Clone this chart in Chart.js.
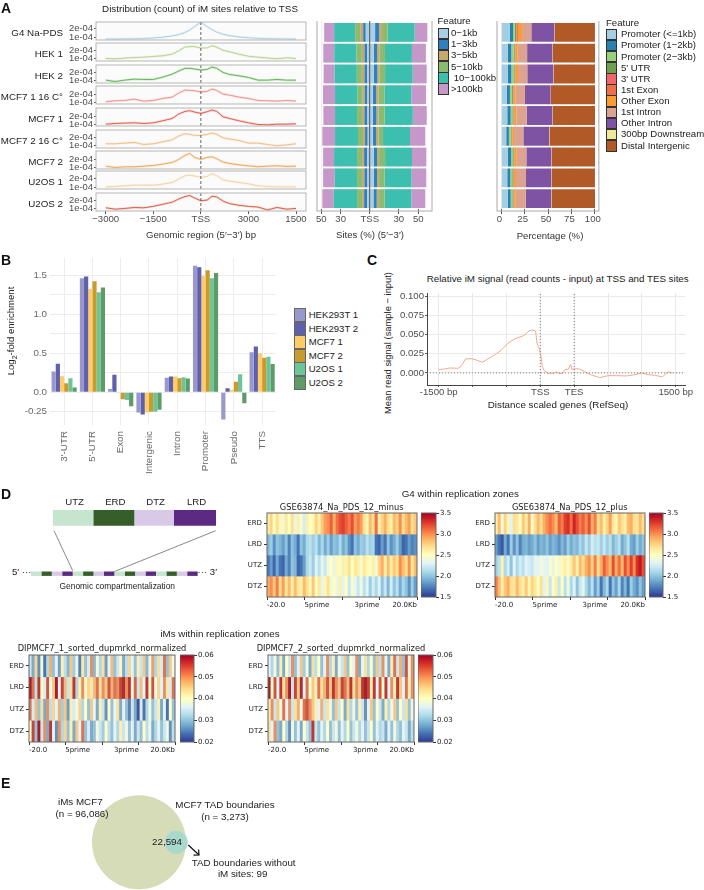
<!DOCTYPE html>
<html>
<head>
<meta charset="utf-8">
<title>iM sites figure</title>
<script src="https://cdn.jsdelivr.net/npm/chart.js@4/dist/chart.umd.js"></script>
<style>
body { margin: 0; background: #fff; }
#fig { position: relative; width: 704px; height: 890px; overflow: hidden; font-family: "Liberation Sans", Arial, sans-serif; }
#fig canvas { position: absolute; }
.txt { position: absolute; white-space: nowrap; color: #222; line-height: 1; }
.swatch { position: absolute; box-sizing: border-box; border: 1px solid #333; }
</style>
</head>
<body>
<div id="fig"></div>
<script>
// panel A, density lines (values in units of 1e-04)
var tssPositions = [-3000,-2700,-2400,-2100,-1800,-1500,-1200,-900,-700,-500,-350,-200,0,200,350,500,700,900,1200,1500,1800,2100,2400,2700,3000];
var densityTicks = [-3000,-1500,0,1500,3000];
var densityTickLabels = ['\u22123000','\u22121500','TSS','3000','1500'];
var sampleNames = ['G4 Na-PDS','HEK 1','HEK 2','MCF7 1 16 C\u00b0','MCF7 1','MCF7 2 16 C\u00b0','MCF7 2','U2OS 1','U2OS 2'];
var g4NaPds = [.78,.78,.79,.8,.83,.9,1.0,1.15,1.3,1.55,1.85,2.25,2.78,2.25,1.9,1.6,1.35,1.18,1.02,.93,.86,.82,.8,.78,.78];
var hek1 = [1.04,1.0,1.08,1.15,1.2,1.28,1.36,1.56,1.95,2.4,2.45,2.45,2.28,2.3,2.55,2.4,2.0,1.85,1.55,1.3,1.2,1.1,1.0,1.12,1.04];
var hek2 = [1.08,.92,1.08,1.2,1.16,1.16,1.44,1.8,2.16,2.48,2.48,2.4,2.28,2.36,2.64,2.48,2.0,1.76,1.6,1.4,1.08,1.08,1.16,1.08,1.08];
var mcf1c16 = [1.08,1.2,1.24,1.4,1.16,1.24,1.48,1.64,2.12,2.48,2.44,2.4,2.24,2.32,2.6,2.44,2.0,1.88,1.64,1.48,1.24,1.2,1.16,1.24,1.16];
var mcf1 = [1.08,1.16,1.2,1.24,1.16,1.24,1.48,1.76,2.28,2.6,2.68,2.52,2.36,2.56,2.76,2.6,1.96,1.76,1.48,1.24,1.04,1.0,1.08,1.08,1.12];
var mcf2c16 = [1.2,1.2,1.28,1.36,1.12,1.2,1.44,1.68,2.12,2.4,2.32,2.2,2.2,2.32,2.48,2.32,1.92,1.76,1.6,1.28,1.28,1.12,.96,1.08,1.2];
var mcf2 = [1.2,1.04,1.12,1.12,1.2,1.28,1.44,1.64,2.0,2.48,2.72,2.24,2.0,2.24,2.32,2.08,1.68,1.52,1.36,1.24,1.12,1.2,1.24,1.16,1.2];
var u2os1 = [1.04,1.08,1.16,1.24,1.24,1.24,1.36,1.56,1.96,2.36,2.44,2.32,2.16,2.28,2.6,2.36,1.88,1.72,1.56,1.4,1.16,1.08,1.04,1.04,1.04];
var u2os2 = [1.08,.92,1.0,1.12,1.08,1.25,1.5,1.75,2.12,2.42,2.54,2.25,1.92,2.0,2.46,2.38,1.88,1.58,1.38,1.25,1.17,.83,1.12,.92,1.0];
var densitySeries = [g4NaPds,hek1,hek2,mcf1c16,mcf1,mcf2c16,mcf2,u2os1,u2os2];
var densityColors = ['#a6cee3','#b2d08a','#55b047','#f08a80','#e8503f','#f5b87a','#f0a04b','#f6cf9e','#d9533b'];
var densityTop = [2.8,2.88,2.88,2.96,3.0,2.84,3.0,2.92,2.84];

// panel A, distance to TSS (left and right of TSS, %)
var distFeatures = ['0\u22121kb','1\u22123kb','3\u22125kb','5\u221210kb','\u00a010\u2212100kb','>100kb'];
var distColors = ['#a6cfe5','#2e80c0','#c8a868','#8cbb70','#3dbfb0','#c598c9'];
var left0to1 = [4.1,2.7,2.7,2.4,2.4,2.1,2.7,2.4,2.7];
var left1to3 = [2.7,2.7,2.7,2.7,3.1,2.7,3.1,3.1,3.1];
var left3to5 = [3.1,2.7,2.7,2.1,2.4,2.1,2.1,2.4,2.1];
var left5to10 = [5.2,5.5,5.2,5.2,5.2,5.2,5.2,5.2,5.2];
var left10to100 = [21.6,23,23,23.4,22.7,23.7,23.7,23,24.1];
var leftOver100 = [10.3,11.3,11.3,12.4,12,13.1,11.3,12,11.7];
var right0to1 = [5.5,4.1,4.1,3.1,3.1,3.1,4.1,4.1,3.8];
var right1to3 = [4.1,3.4,3.8,3.4,3.8,3.4,3.4,3.4,3.4];
var right3to5 = [3.1,2.4,2.1,2.4,2.1,2.4,2.1,2.1,2.4];
var right5to10 = [5.8,5.8,5.8,6.2,6.2,4.8,6.2,5.8,5.8];
var right10to100 = [27.8,27.8,28.5,27.8,29.2,27.8,27.8,27.8,27.5];
var rightOver100 = [13.1,14.4,14.4,15.1,14.4,15.8,14.8,15.1,14.4];
var distLeft = [left0to1,left1to3,left3to5,left5to10,left10to100,leftOver100];
var distRight = [right0to1,right1to3,right3to5,right5to10,right10to100,rightOver100];
var distTicks = [-50,-30,0,30,50];
var distTickLabels = ['50','30','TSS','30','50'];

// panel A, genomic features (%)
var annoFeatures = ['Promoter (<=1kb)','Promoter (1\u22122kb)','Promoter (2\u22123kb)',"5' UTR","3' UTR",'1st Exon','Other Exon','1st Intron','Other Intron','300bp Downstream','Distal Intergenic'];
var annoColors = ['#a6cee3','#2681b4','#98d07c','#6f9f50','#f0666a','#ef7046','#fd9b33','#dba390','#7f53a3','#f0ea98','#b15a28'];
var promoter1 = [8.9,7.1,7.1,6,6.4,5.3,6.8,6.4,6.8];
var promoter2 = [3.6,3.6,3.6,3.2,3.6,2.8,3.6,3.2,3.2];
var promoter3 = [1.8,2.5,2.8,2.1,1.8,1.8,2.1,2.1,1.8];
var utr5 = [1.4,1.1,.7,1.1,1.1,1.1,.7,1.1,1.1];
var utr3 = [.7,.4,.4,.4,.4,.4,.4,.4,.4];
var exon1 = [1.4,.4,.4,.4,.4,.4,.4,.4,.4];
var exonOther = [4.3,2.5,2.8,1.8,2.5,1.8,2.5,2.1,1.8];
var intron1 = [10,10,10,10.3,11,10,10.3,10.7,10.7];
var intronOther = [24.6,27,27.8,27.4,27.4,27.4,26.7,27,27];
var downstream = [.4,.4,.4,.4,.4,.4,.4,.4,.4];
var distal = [43,45.2,44.1,47.1,45.2,48.8,46.3,46.3,46.6];
var annoSeries = [promoter1,promoter2,promoter3,utr5,utr3,exon1,exonOther,intron1,intronOther,downstream,distal];

// panel B
var enrichCategories = ["3'-UTR","5'-UTR",'Exon','Intergenic','Intron','Promoter','Pseudo','TTS'];
var enrichNames = ['HEK293T 1','HEK293T 2','MCF7 1','MCF7 2','U2OS 1','U2OS 2'];
var enrichColors = ['#9898cc','#5e60ae','#ffcc66','#c99a2e','#6cc59a','#5f9b66'];
var hek293t1 = [.265,1.46,.04,-.26,.185,1.62,-.35,.51];
var hek293t2 = [.365,1.48,.225,-.285,.2,1.60,.05,.585];
var mcf71 = [.205,1.32,-.005,-.26,.2,1.49,.03,.50];
var mcf72 = [.115,1.42,-.09,-.25,.18,1.56,.135,.44];
var u2os1b = [.18,1.28,-.1,-.25,.19,1.46,.23,.455];
var u2os2b = [.06,1.34,-.18,-.225,.175,1.525,-.14,.36];
var enrichSeries = [hek293t1,hek293t2,mcf71,mcf72,u2os1b,u2os2b];
var enrichTicks = [-.25,0,.25,.5,.75,1,1.25,1.5];
var enrichTickLabels = ['-0.25','0.0','','0.5','','1.0','','1.5'];

// panel C (TSS = 0, TES = 500 on the scaled gene axis)
var signalX = [-1500,-1415,-1341,-1218,-1168,-1104,-1020,-947,-858,-774,-675,-577,-478,-380,-256,-158,-108,-69,-49,-10,10,30,54,113,148,187,237,286,335,375,409,449,468,508,582,656,754,878,1001,1124,1272,1395,1494,1592,1691,1804,1888,1952];
var signalY = [.0043,.0052,.0065,.0061,.0087,.0183,.0187,.017,.0139,.0183,.0235,.0296,.0387,.0444,.0483,.0552,.0561,.0548,.039,.0304,.0217,.0087,.0035,-.0009,0,-.0009,.0017,-.0009,0,.0052,.0043,.0113,.0043,.0056,.0052,.0017,-.0026,-.0061,-.0035,-.0035,-.0039,-.0022,0,-.0022,-.003,-.0052,.0017,0];
var signalXTicks = [-1500,-1000,-500,0,500,1000,1500,2000];
var signalXLabels = ['-1500 bp','','','TSS','TES','','','1500 bp'];
var signalYTicks = [0,.025,.05,.075,.1];

// panel D schematic
var zoneNames = ['UTZ','ERD','DTZ','LRD'];
var zoneColors = ['#c6e5cf','#355e2b','#d8cae6','#5c2a82'];
var zoneEdges = [53,93.3,134.3,174,216];
var trackEdges = [31,41.4,51.8,62.2,72.7,83.1,93.5,103.9,114.3,124.7,135.1,145.5,156,166.4,176.8,187.2,197.7];
var connectorA = [[54,530.7],[72.7,570.7]];
var connectorB = [[215.7,530.7],[114,571.7]];

// panel D heatmaps
var heatRows = ['ERD','LRD','UTZ','DTZ'];
var heatXLabels = ['-20.0','5prime','3prime','20.0Kb'];
var g4Ticks = [1.5,2,2.5,3,3.5];
var imTicks = [.02,.03,.04,.05,.06];
var g4MinusERD = [2.6,2.75,2.5,2.7,2.55,2.4,2.65,2.5,2.7,2.35,2.6,2.45,2.25,2.6,2.5,2.55,2.75,2.6,2.8,2.95,3.0,3.15,2.9,3.1,3.2,3.25,3.15,3.05,3.2,2.95,3.05,2.95,2.7,2.55,2.85,2.7,3.1,2.6,2.75,2.9,2.7,2.6,2.85,2.75,3.0,2.7,2.85,2.95,2.7,2.8];
var g4MinusLRD = [1.95,2.05,1.8,2.0,1.95,1.85,2.0,1.75,2.0,1.9,1.7,2.0,1.9,2.1,2.15,2.05,2.15,1.95,2.1,1.9,2.05,1.85,2.0,1.95,2.1,1.9,2.0,1.8,1.7,2.0,1.9,2.05,2.0,2.15,2.05,2.1,1.7,1.65,1.85,1.7,2.0,1.8,1.9,2.05,1.85,1.65,1.7,1.85,1.75,1.8];
var g4MinusUTZ = [1.7,1.85,1.65,1.9,1.7,1.65,1.9,1.75,2.0,1.95,1.65,1.7,1.85,2.1,2.2,2.05,2.3,2.15,2.35,2.2,2.4,2.5,2.35,2.55,2.45,2.6,2.55,2.7,2.5,2.65,2.6,2.45,2.65,2.55,2.5,2.6,2.4,2.75,2.9,2.6,2.85,2.6,2.8,2.7,3.0,2.85,2.7,3.0,2.65,2.85];
var g4MinusDTZ = [2.9,3.0,2.8,3.05,2.7,2.95,2.65,2.85,2.6,2.85,2.65,2.6,2.85,2.7,2.55,2.8,2.5,2.65,2.35,2.55,2.7,2.4,2.5,2.35,2.6,2.3,2.5,2.2,2.45,2.35,2.2,2.4,2.15,2.3,2.05,2.25,2.1,2.3,2.0,2.2,1.95,2.25,2.0,2.15,1.9,2.1,2.0,1.8,2.05,1.85];
var g4PlusERD = [2.6,2.85,2.4,2.75,2.55,2.3,2.7,2.65,2.5,2.8,2.6,2.9,2.45,2.7,2.85,2.7,2.9,3.0,3.1,3.0,2.85,3.15,3.05,3.25,3.3,3.1,3.35,3.2,3.05,3.15,3.0,3.2,2.9,3.05,2.7,2.85,2.6,2.75,2.95,2.65,2.55,2.8,2.7,2.6,2.85,2.9,2.7,2.65,2.85,2.7];
var g4PlusLRD = [1.85,1.7,1.6,1.9,1.7,2.05,1.8,2.0,1.75,1.9,1.95,1.85,1.9,2.0,1.85,1.95,1.9,2.0,1.85,1.95,1.9,1.8,1.95,1.85,2.05,1.9,2.0,1.95,2.1,2.0,2.2,2.05,2.25,2.15,2.2,2.05,2.2,2.05,2.15,1.95,2.05,2.15,1.9,2.0,2.15,1.9,1.85,2.05,1.9,2.0];
var g4PlusUTZ = [2.05,2.15,2.6,2.1,2.25,2.0,2.3,2.1,2.25,2.15,2.3,2.25,2.2,2.35,2.3,2.4,2.35,2.3,2.45,2.35,2.5,2.4,2.55,2.6,2.45,2.65,2.8,2.6,2.85,2.7,2.9,3.0,2.75,3.05,2.7,2.9,3.15,3.0,2.85,3.2,2.9,3.1,2.85,3.2,3.0,3.25,3.0,3.3,3.4,3.2];
var g4PlusDTZ = [3.05,2.85,2.6,2.8,2.9,2.7,2.65,2.85,2.7,2.6,2.8,2.55,2.75,2.65,2.5,2.7,2.3,2.55,2.2,2.45,2.6,2.2,2.5,2.15,2.4,2.1,2.3,2.0,2.2,2.35,2.1,1.95,2.15,1.85,2.05,1.7,1.95,2.1,1.7,2.0,1.85,2.1,1.75,1.95,1.7,2.05,1.9,1.8,2.0,1.85];
var im1ERD = [.034,.028,.045,.026,.038,.024,.032,.048,.03,.036,.027,.042,.033,.029,.046,.031,.037,.025,.043,.03,.035,.05,.029,.038,.032,.044,.027,.036,.047,.03,.034,.041,.028,.033,.045,.036,.03,.042,.034,.046,.029,.037,.049,.032,.044,.035,.052,.03,.046,.038];
var im1LRD = [.058,.052,.033,.056,.04,.035,.054,.038,.046,.058,.036,.055,.047,.034,.044,.056,.032,.042,.05,.041,.045,.043,.047,.052,.044,.05,.046,.054,.048,.052,.05,.055,.057,.05,.056,.038,.053,.034,.047,.036,.056,.04,.054,.038,.045,.036,.05,.043,.035,.052];
var im1UTZ = [.052,.035,.047,.03,.044,.028,.05,.033,.045,.036,.048,.031,.046,.027,.042,.035,.038,.045,.032,.04,.03,.046,.036,.028,.042,.034,.026,.04,.03,.037,.044,.028,.036,.03,.025,.034,.028,.022,.035,.024,.032,.038,.03,.034,.042,.028,.036,.024,.04,.03];
var im1DTZ = [.04,.055,.03,.058,.034,.05,.028,.056,.036,.026,.05,.032,.045,.03,.042,.028,.046,.036,.052,.03,.035,.028,.03,.038,.034,.031,.04,.033,.03,.036,.032,.042,.034,.038,.03,.036,.028,.034,.03,.04,.033,.037,.028,.032,.036,.03,.034,.038,.026,.033];
var im2ERD = [.036,.032,.038,.03,.042,.028,.04,.034,.05,.03,.036,.046,.031,.038,.028,.044,.033,.04,.03,.036,.05,.032,.042,.028,.038,.034,.046,.03,.04,.036,.05,.028,.037,.044,.032,.04,.03,.046,.033,.05,.036,.028,.042,.052,.034,.048,.03,.054,.038,.05];
var im2LRD = [.058,.04,.054,.036,.056,.044,.05,.058,.034,.055,.046,.057,.036,.052,.04,.046,.042,.052,.044,.048,.054,.046,.056,.05,.046,.055,.052,.047,.056,.044,.05,.046,.056,.058,.055,.042,.056,.036,.054,.04,.056,.036,.05,.042,.056,.046,.036,.052,.042,.05];
var im2UTZ = [.042,.05,.034,.046,.038,.052,.036,.05,.034,.044,.048,.038,.052,.054,.05,.046,.042,.036,.048,.034,.044,.038,.03,.046,.034,.04,.028,.044,.032,.038,.03,.042,.034,.026,.036,.046,.03,.04,.034,.028,.042,.032,.038,.046,.03,.04,.034,.044,.03,.038];
var im2DTZ = [.044,.036,.05,.03,.028,.04,.032,.026,.038,.03,.036,.028,.04,.034,.03,.056,.034,.03,.036,.032,.04,.03,.034,.038,.03,.036,.032,.04,.03,.034,.038,.032,.036,.03,.034,.04,.03,.036,.032,.034,.028,.036,.03,.038,.032,.03,.036,.034,.028,.033];

// panel E
var vennX = [139,176.3];
var vennY = [842.3,842.3];
var vennR = [47,11.5];
var vennColors = ['#d6dcb8','#a9d9cc'];
var arrowPath = [[188.3,845],[199,855]];
var arrowHead = [[193.5,855.2],[199,855],[198.6,849.5]];

var sansFont = '"Liberation Sans"';
var mplFont = '"DejaVu Sans"';
var tickGrey = '#4d4d4d';
var fig = document.getElementById('fig');

function label(text, x, y, o) {
    o = o || {};
    var d = document.createElement('div');
    d.className = 'txt';
    d.innerHTML = text;
    var tx = o.align == 'right' ? '-100%' : o.align == 'left' ? '0' : '-50%';
    d.style.left = x + 'px';
    d.style.top = y + 'px';
    d.style.fontSize = (o.size || 9.6) + 'px';
    if (o.color) d.style.color = o.color;
    if (o.weight) d.style.fontWeight = o.weight;
    if (o.font) d.style.fontFamily = o.font;
    d.style.transform = 'translate(' + tx + ',-50%)' + (o.rotate ? ' rotate(' + o.rotate + 'deg)' : '');
    fig.appendChild(d);
}

function legendBlock(title, names, colors, sx, sw, tx, titleY, firstY, step, size, border) {
    if (title) label(title, sx, titleY, {align: 'left', size: size});
    names.forEach(function(n, i) {
        var s = document.createElement('div');
        s.className = 'swatch';
        s.style.left = sx + 'px';
        s.style.top = (firstY + i * step) + 'px';
        s.style.width = sw + 'px';
        s.style.height = (step + 0.4) + 'px';
        s.style.background = colors[i];
        if (border) s.style.borderColor = border;
        fig.appendChild(s);
        label(n, tx, firstY + i * step + step / 2, {align: 'left', size: size});
    });
}

// fixed ticks, the picture has them at unusual places
function fixedTicks(list) {
    return function(axis) { axis.ticks = list.map(function(v) { return {value: v}; }); };
}

function framePlugin(color, dx, dy, fill) {
    return {
        id: 'frame',
        beforeDatasetsDraw: function(chart) {
            if (!fill) return;
            var a = chart.chartArea, c = chart.ctx;
            c.save();
            c.fillStyle = fill;
            c.fillRect(a.left, a.top, a.right - a.left, a.bottom - a.top);
            c.restore();
        },
        afterDraw: function(chart) {
            var a = chart.chartArea, c = chart.ctx;
            c.save();
            c.strokeStyle = color;
            c.lineWidth = 1;
            c.strokeRect(a.left - dx, a.top - dy, a.right - a.left + 2 * dx, a.bottom - a.top + 2 * dy);
            c.restore();
        }
    };
}

// puts a canvas so that the plot area lands on area = [x0,y0,x1,y1]; m = [left,top,right,bottom]
// top and bottom must leave room for half a y tick label or chart.js shrinks the plot
function addChart(area, m, config) {
    var w = area[2] - area[0], h = area[3] - area[1];
    var canvas = document.createElement('canvas');
    canvas.width = w + m[0] + m[2];
    canvas.height = h + m[1] + m[3];
    canvas.style.left = (area[0] - m[0]) + 'px';
    canvas.style.top = (area[1] - m[1]) + 'px';
    fig.appendChild(canvas);
    var pad = {left: m[0], top: m[1], right: m[2], bottom: m[3]};
    var scales = config.options.scales;
    Object.keys(scales).forEach(function(k) {
        var s = scales[k];
        if (s.display === false) return;
        if (k[0] == 'x') {
            s.afterFit = function(a) { a.height = m[3]; };
            pad.bottom = 0;
        } else if (s.position == 'right') {
            s.afterFit = function(a) { a.width = m[2]; };
            pad.right = 0;
        } else {
            s.afterFit = function(a) { a.width = m[0]; };
            pad.left = 0;
        }
    });
    config.options.responsive = false;
    config.options.animation = false;
    config.options.layout = {padding: pad, autoPadding: false};
    config.options.plugins = {legend: {display: false}, tooltip: {enabled: false}};
    return new Chart(canvas.getContext('2d'), config);
}

function points(xs, ys) {
    return xs.map(function(x, i) { return {x: x, y: ys[i]}; });
}

function lineSet(pairs, color, width, dash) {
    return {
        type: 'scatter', showLine: true, pointRadius: 0, borderColor: color, borderWidth: width,
        borderDash: dash || [], borderCapStyle: 'butt', tension: 0, clip: false,
        data: pairs.map(function(p) { return {x: p[0], y: p[1]}; })
    };
}

// panel A density panels
var densityArea = [22,43,65,86,108,130,151,171,193];
densitySeries.forEach(function(values, i) {
    var top = densityArea[i];
    var last = i == densitySeries.length - 1;
    var minY = densityTop[i] - 2.14;
    addChart([96, top, 306, top + 18], [36, 8, 4, last ? 18 : 8], {
        type: 'scatter',
        data: {datasets: [
            lineSet([[0, minY], [0, densityTop[i]]], '#555', 0.9, [3, 2]),
            {showLine: true, pointRadius: 0, borderColor: densityColors[i], borderWidth: 0.9, data: points(tssPositions, values)},
            {showLine: true, pointRadius: 0, borderColor: densityColors[i] + '30', borderWidth: 2.5, data: points(tssPositions, values)}
        ]},
        options: {
            scales: {
                x: {
                    type: 'linear', min: -3306, max: 3315, display: last,
                    afterBuildTicks: fixedTicks(densityTicks),
                    grid: {color: '#ececec', tickColor: '#555', tickLength: 3},
                    border: {display: false},
                    ticks: {autoSkip: false, maxRotation: 0, padding: 0, color: tickGrey, font: {family: sansFont, size: 9.6},
                        callback: function(v) { return densityTickLabels[densityTicks.indexOf(v)]; }}
                },
                y: {
                    min: minY, max: densityTop[i],
                    afterBuildTicks: fixedTicks([1, 2]),
                    grid: {color: '#e6e6e6', tickColor: '#555', tickLength: 2},
                    border: {display: false},
                    ticks: {padding: 1, color: tickGrey, font: {family: sansFont, size: 9.4},
                        callback: function(v) { return v + 'e-04'; }}
                }
            }
        },
        plugins: [framePlugin('#b5b5b5', 0, 0, '#fbfbfb')]
    });
    label(sampleNames[i], 63, top + 10.5, {align: 'right', size: 9.8});
});
label('Distribution (count) of iM sites relative to TSS', 200, 9, {size: 9.8});
label('Genomic region (5\u2032\u22123\u2032) bp', 201, 235, {size: 9.6, color: '#333'});

// panel A distance bars
var tssMark = {
    id: 'tssMark',
    afterDatasetsDraw: function(chart) {
        var x = chart.scales.x.getPixelForValue(0), a = chart.chartArea, c = chart.ctx;
        c.save();
        c.strokeStyle = '#444';
        c.lineWidth = 1;
        c.beginPath();
        c.moveTo(x, a.top - 1);
        c.lineTo(x, a.bottom + 2.5);
        c.stroke();
        c.restore();
    }
};
var distSets = [];
distFeatures.forEach(function(n, i) {
    distSets.push({label: n, data: distLeft[i].map(function(v) { return -v; }), backgroundColor: distColors[i]});
    distSets.push({label: n, data: distRight[i], backgroundColor: distColors[i]});
});
addChart([317, 22, 432, 209], [6, 1, 6, 16], {
    type: 'bar',
    data: {labels: sampleNames, datasets: distSets},
    options: {
        indexAxis: 'y',
        datasets: {bar: {barPercentage: 0.91, categoryPercentage: 1}},
        scales: {
            x: {
                type: 'linear', stacked: true, min: -54.4, max: 64.2,
                afterBuildTicks: fixedTicks(distTicks),
                grid: {color: '#efefef', tickColor: '#555', tickLength: 5},
                border: {display: false},
                ticks: {autoSkip: false, maxRotation: 0, padding: 0, color: tickGrey, font: {family: sansFont, size: 9.6},
                    callback: function(v) { return distTickLabels[distTicks.indexOf(v)]; }}
            },
            y: {stacked: true, display: false}
        }
    },
    plugins: [framePlugin('#aaaaaa', 0, 2, null), tssMark]
});
label('Sites (%) (5\u2032\u22123\u2032)', 370, 235, {color: '#333'});
legendBlock('Feature', distFeatures, distColors, 437.5, 11, 451, 20.5, 27.7, 11.1, 9.6);

// panel A annotation bars
addChart([497, 22, 599, 209], [4, 1, 4, 16], {
    type: 'bar',
    data: {labels: sampleNames, datasets: annoFeatures.map(function(n, i) {
        return {label: n, data: annoSeries[i], backgroundColor: annoColors[i]};
    })},
    options: {
        indexAxis: 'y',
        datasets: {bar: {barPercentage: 0.91, categoryPercentage: 1}},
        scales: {
            x: {
                type: 'linear', stacked: true, min: -4.6, max: 104.3,
                afterBuildTicks: fixedTicks([0, 25, 50, 75, 100]),
                grid: {color: '#efefef', tickColor: '#555', tickLength: 5},
                border: {display: false},
                ticks: {autoSkip: false, maxRotation: 0, padding: 0, labelOffset: -2, color: tickGrey, font: {family: sansFont, size: 9.6}}
            },
            y: {stacked: true, display: false}
        }
    },
    plugins: [framePlugin('#aaaaaa', 0, 2, null)]
});
label('Percentage (%)', 550, 236, {color: '#333'});
legendBlock('Feature', annoFeatures, annoColors, 606, 11.3, 621, 22.7, 28.7, 11.13, 9.6);

// panel B
addChart([50, 257, 278, 425], [40, 8, 2, 56], {
    type: 'bar',
    data: {labels: enrichCategories, datasets: enrichNames.map(function(n, i) {
        return {label: n, data: enrichSeries[i], backgroundColor: enrichColors[i]};
    })},
    options: {
        datasets: {bar: {barPercentage: 1, categoryPercentage: 0.89}},
        scales: {
            x: {
                grid: {offset: false, color: '#ededed', drawTicks: false},
                border: {display: false},
                ticks: {autoRotate: true, minRotation: 90, maxRotation: 90, autoSkip: false, padding: 6, color: '#6a6a6a', font: {family: sansFont, size: 9.8}}
            },
            y: {
                min: -.42, max: 1.72,
                afterBuildTicks: fixedTicks(enrichTicks),
                grid: {color: '#ededed', drawTicks: false},
                border: {display: false},
                ticks: {padding: 3, color: '#6a6a6a', font: {family: sansFont, size: 9.8},
                    callback: function(v) { return enrichTickLabels[enrichTicks.indexOf(v)]; }}
            }
        }
    }
});
label('Log<sub style="font-size:7px">2</sub>-fold enrichment', 12, 331, {rotate: -90, size: 9.6});
legendBlock('', enrichNames, enrichColors, 294, 12, 308.7, 0, 308.3, 13.5, 9.6, '#666');

// panel C
addChart([427, 293, 685, 385], [30, 8, 18, 16], {
    type: 'scatter',
    data: {datasets: [
        lineSet([[0, -.0157], [0, .1043]], '#777', 0.9, [1, 2]),
        lineSet([[500, -.0157], [500, .1043]], '#777', 0.9, [1, 2]),
        lineSet([[-1673, 0], [2137, 0]], '#777', 0.9, [1, 2]),
        {showLine: true, pointRadius: 0, borderColor: '#f5a98c', borderWidth: 1, data: points(signalX, signalY)}
    ]},
    options: {
        scales: {
            x: {
                type: 'linear', min: -1673, max: 2137,
                afterBuildTicks: fixedTicks(signalXTicks),
                grid: {color: '#e9e9e9', tickColor: '#555', tickLength: 2},
                border: {color: '#444'},
                ticks: {autoSkip: false, maxRotation: 0, padding: 0, color: tickGrey, font: {family: sansFont, size: 9.6},
                    callback: function(v) { return signalXLabels[signalXTicks.indexOf(v)]; }}
            },
            y: {
                min: -.0157, max: .1043,
                afterBuildTicks: fixedTicks(signalYTicks),
                grid: {color: '#e9e9e9', tickColor: '#555', tickLength: 2},
                border: {color: '#444'},
                ticks: {padding: 1, color: tickGrey, font: {family: sansFont, size: 9.6},
                    callback: function(v) { return v.toFixed(3); }}
            }
        }
    }
});
label('Relative iM signal (read counts - input) at TSS and TES sites', 557.7, 279, {size: 9.75});
label('Mean read signal (sample \u2212 input)', 388, 343, {rotate: -90, size: 9.4});
label('Distance scaled genes (RefSeq)', 558, 405, {size: 9.8});

// panel D schematic
var schemeSets = [];
zoneColors.forEach(function(col, i) {
    schemeSets.push(lineSet([[zoneEdges[i], 517.8], [zoneEdges[i + 1], 517.8]], col, 15.7));
});
trackEdges.slice(0, -1).forEach(function(x, i) {
    schemeSets.push(lineSet([[x, 573.7], [trackEdges[i + 1], 573.7]], zoneColors[i % 4], 4.4));
});
schemeSets.push(lineSet(connectorA, '#555', 0.7));
schemeSets.push(lineSet(connectorB, '#555', 0.7));
addChart([0, 500, 230, 590], [0, 0, 0, 0], {
    type: 'scatter',
    data: {datasets: schemeSets},
    options: {scales: {
        x: {type: 'linear', min: 0, max: 230, display: false},
        y: {min: 500, max: 590, reverse: true, display: false}
    }}
});
zoneNames.forEach(function(n, i) {
    label(n, (zoneEdges[i] + zoneEdges[i + 1]) / 2 + 1.5, 502.3, {size: 9.6});
});
label('5\u2032 \u00b7\u00b7\u00b7', 12, 572.3, {align: 'left', size: 9.6});
label('\u00b7\u00b7\u00b7 3\u2032', 217, 572.3, {align: 'right', size: 9.6});
label('Genomic compartmentalization', 117.3, 586, {size: 8.4});

// heatmap colours
var rdYlBu = ['#313695','#4575b4','#74add1','#abd9e9','#e0f3f8','#ffffbf','#fee090','#fdae61','#f46d43','#d73027','#a50026'];
function heatColor(v, lo, hi) {
    var t = Math.min(1, Math.max(0, (v - lo) / (hi - lo))) * (rdYlBu.length - 1);
    var i = Math.min(rdYlBu.length - 2, Math.floor(t)), f = t - i;
    var a = parseInt(rdYlBu[i].slice(1), 16), b = parseInt(rdYlBu[i + 1].slice(1), 16);
    var mix = function(s) {
        var p = (a >> s) & 255, q = (b >> s) & 255;
        return Math.round(p + (q - p) * f);
    };
    return 'rgb(' + mix(16) + ',' + mix(8) + ',' + mix(0) + ')';
}

function heatmap(area, rows, lo, hi, leftMargin) {
    var chart = addChart(area, [leftMargin, 8, 3, 14], {
        type: 'bar',
        data: {
            labels: rows[0].map(function(v, i) { return i; }),
            datasets: rows.map(function(vals, r) {
                return {
                    grouped: false, barPercentage: 1, categoryPercentage: 1,
                    data: vals.map(function() { return [r, r + 1]; }),
                    backgroundColor: vals.map(function(v) { return heatColor(v, lo, hi); })
                };
            })
        },
        options: {
            scales: {
                x: {display: false},
                x2: {
                    type: 'linear', position: 'bottom', min: 0, max: 3,
                    afterBuildTicks: fixedTicks([0, 1, 2, 3]),
                    grid: {drawOnChartArea: false, tickColor: '#333', tickLength: 3},
                    border: {display: false},
                    ticks: {autoSkip: false, maxRotation: 0, padding: 0, font: {size: 1}, callback: function() { return ''; }}
                },
                y: {
                    min: 0, max: 4, reverse: true,
                    afterBuildTicks: fixedTicks([.5, 1.5, 2.5, 3.5]),
                    grid: {drawOnChartArea: false, tickColor: '#333', tickLength: 3},
                    border: {display: false},
                    ticks: {padding: 2, color: '#222', font: {family: mplFont, size: 7},
                        callback: function(v) { return heatRows[Math.floor(v)]; }}
                }
            }
        },
        plugins: [framePlugin('#666', 0, 0, null)]
    });
    // the end labels sit inside the plot width
    var ty = area[3] + 8, w = area[2] - area[0];
    label(heatXLabels[0], area[0], ty, {align: 'left', font: mplFont, size: 7});
    label(heatXLabels[1], area[0] + w / 3, ty, {font: mplFont, size: 7});
    label(heatXLabels[2], area[0] + 2 * w / 3, ty, {font: mplFont, size: 7});
    label(heatXLabels[3], area[2], ty, {align: 'right', font: mplFont, size: 7});
    return chart;
}

function colorbar(area, ticks, lo, hi, digits) {
    addChart(area, [0, 8, 20, 8], {
        type: 'bar',
        data: {labels: ['c'], datasets: [{
            barPercentage: 1, categoryPercentage: 1,
            data: [[lo, hi]],
            backgroundColor: function(ctx) {
                var a = ctx.chart.chartArea;
                if (!a) return '#fff';
                var g = ctx.chart.ctx.createLinearGradient(0, a.bottom, 0, a.top);
                rdYlBu.forEach(function(c, i) { g.addColorStop(i / (rdYlBu.length - 1), c); });
                return g;
            }
        }]},
        options: {
            scales: {
                x: {display: false},
                y: {
                    position: 'right', min: lo, max: hi,
                    afterBuildTicks: fixedTicks(ticks),
                    grid: {drawOnChartArea: false, tickColor: '#333', tickLength: 3},
                    border: {display: false},
                    ticks: {padding: 1, color: '#222', font: {family: mplFont, size: 7},
                        callback: function(v) { return v.toFixed(digits); }}
                }
            }
        },
        plugins: [framePlugin('#666', 0, 0, null)]
    });
}

label('G4 within replication zones', 460.3, 494, {size: 9.8});
label('GSE63874_Na_PDS_12_minus', 341.7, 506.7, {font: mplFont, size: 8.3});
label('GSE63874_Na_PDS_12_plus', 569.7, 506.7, {font: mplFont, size: 8.3});
heatmap([267, 513, 417, 597], [g4MinusERD, g4MinusLRD, g4MinusUTZ, g4MinusDTZ], 1.5, 3.5, 24);
colorbar([421, 513, 436, 597], g4Ticks, 1.5, 3.5, 1);
heatmap([495, 513, 645, 597], [g4PlusERD, g4PlusLRD, g4PlusUTZ, g4PlusDTZ], 1.5, 3.5, 24);
colorbar([649, 513, 663, 597], g4Ticks, 1.5, 3.5, 1);

label('iMs within replication zones', 220, 634.3, {size: 9.8});
label('DIPMCF7_1_sorted_dupmrkd_normalized', 102, 648, {font: mplFont, size: 8.3});
label('DIPMCF7_2_sorted_dupmrkd_normalized', 341, 648, {font: mplFont, size: 8.3});
// the reference stripes are narrower and blur to duller colours
heatmap([29, 655, 175, 742], [im1ERD, im1LRD, im1UTZ, im1DTZ], .02, .06, 24).canvas.style.filter = 'saturate(0.8)';
colorbar([180, 655, 194, 742], imTicks, .02, .06, 2);
heatmap([268, 655, 414, 742], [im2ERD, im2LRD, im2UTZ, im2DTZ], .02, .06, 24).canvas.style.filter = 'saturate(0.8)';
colorbar([418, 655, 433, 742], imTicks, .02, .06, 2);

// panel E, first dataset ends up on top
addChart([80, 785, 210, 890], [0, 0, 0, 0], {
    type: 'bubble',
    data: {datasets: [
        lineSet(arrowPath, '#111', 1.2),
        lineSet(arrowHead, '#111', 1.2),
        {data: [{x: vennX[1], y: vennY[1], r: vennR[1]}], backgroundColor: vennColors[1], borderWidth: 0, clip: false},
        {data: [{x: vennX[0], y: vennY[0], r: vennR[0]}], backgroundColor: vennColors[0], borderWidth: 0, clip: false}
    ]},
    options: {scales: {
        x: {type: 'linear', min: 80, max: 210, display: false},
        y: {min: 785, max: 890, reverse: true, display: false}
    }}
});
label('iMs MCF7', 80.3, 802.3, {size: 9.8});
label('(n = 96,086)', 82, 814.3, {size: 9.8});
label('MCF7 TAD boundaries', 225, 804.7, {size: 9.8});
label('(n = 3,273)', 225, 816.7, {size: 9.8});
label('22,594', 167, 841.7, {size: 9.8});
label('TAD boundaries without', 243.7, 862.7, {size: 9.8});
label('iM sites: 99', 242.7, 874.3, {size: 9.8});

// panel letters
[['A', 8], ['B', 260], ['D', 494], ['E', 783]].forEach(function(p) {
    label(p[0], 1, p[1], {align: 'left', size: 14, weight: 'bold', color: '#111'});
});
label('C', 367, 260, {align: 'left', size: 14, weight: 'bold', color: '#111'});
</script>
</body>
</html>
